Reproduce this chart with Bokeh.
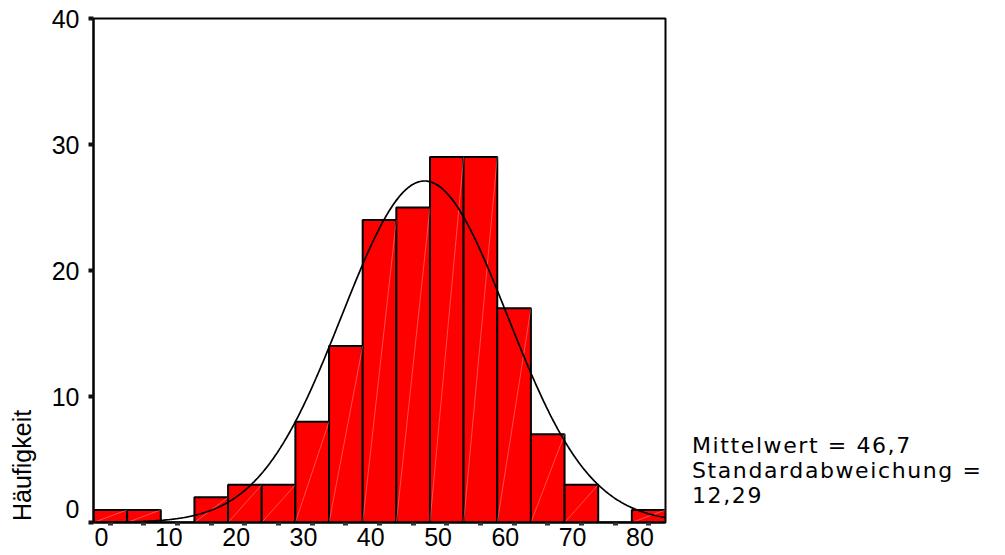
import numpy as np
from bokeh.plotting import figure
from bokeh.layouts import row
from bokeh.models import Range1d, LinearAxis, FixedTicker, ColumnDataSource, Div
from bokeh.embed import file_html
from bokeh.resources import INLINE

# ---- data ----
bin_centers = [0, 5, 10, 15, 20, 25, 30, 35, 40, 45, 50, 55, 60, 65, 70, 75, 80]
counts = [1, 1, 0, 2, 3, 3, 8, 14, 24, 25, 29, 29, 17, 7, 3, 0, 1]
bin_width = 5
x_tick_values = [0, 10, 20, 30, 40, 50, 60, 70, 80]
y_tick_values = [0, 10, 20, 30, 40]
mean_value = 46.7
std_value = 12.29
stats_lines = ["Mittelwert = 46,7", "Standardabweichung =", "12,29"]
y_label = "Häufigkeit"

lefts = [c - bin_width / 2 for c in bin_centers]
rights = [c + bin_width / 2 for c in bin_centers]
src = ColumnDataSource(dict(left=lefts, right=rights, top=counts, bottom=[0] * len(counts)))

nz = [i for i, c in enumerate(counts) if c > 0]
diag = ColumnDataSource(dict(x0=[lefts[i] for i in nz], x1=[rights[i] for i in nz],
                             y0=[0] * len(nz), y1=[counts[i] for i in nz]))

n_total = sum(counts)
xs = np.linspace(lefts[0], rights[-1], 500)
ys = n_total * bin_width * np.exp(-0.5 * ((xs - mean_value) / std_value) ** 2) / (std_value * np.sqrt(2 * np.pi))

FONT = "Liberation Sans"
FS = "25px"
LEFT_W = 40

p = figure(frame_width=572, frame_height=504, output_backend="svg", toolbar_location=None,
           x_range=Range1d(lefts[0], rights[-1]), y_range=Range1d(0, 40),
           min_border_left=93 - LEFT_W, min_border_right=2, min_border_top=18, min_border_bottom=33,
           x_axis_location=None, y_axis_location=None)
p.xgrid.visible = False
p.ygrid.visible = False
p.outline_line_color = "black"
p.outline_line_width = 2
p.background_fill_color = "white"
p.border_fill_color = "white"

p.quad(left="left", right="right", top="top", bottom="bottom", source=src,
       fill_color="#FF0000", line_color="black", line_width=2)
p.segment(x0="x0", y0="y0", x1="x1", y1="y1", source=diag,
          line_color="white", line_alpha=0.3, line_width=1)
p.line(xs, ys, line_color="black", line_width=1.7)

# y axis: tick marks
ytk = LinearAxis(ticker=FixedTicker(ticks=y_tick_values))
ytk.axis_line_width = 2
ytk.axis_line_color = "black"
ytk.major_tick_in = 0
ytk.major_tick_out = 5
ytk.major_tick_line_width = 4
ytk.major_tick_line_color = "#111111"
ytk.minor_tick_line_color = None
ytk.major_label_overrides = {v: "" for v in y_tick_values}
ytk.major_label_text_font_size = "0px"
ytk.major_label_standoff = 0
p.add_layout(ytk, "left")

# y axis: labels (SPSS lifts the "0" label above the x axis)
lift = 1.1
ylab_ticks = [y_tick_values[0] + lift] + y_tick_values[1:]
ylab = LinearAxis(ticker=FixedTicker(ticks=ylab_ticks))
ylab.major_label_overrides = {ylab_ticks[0]: str(y_tick_values[0])}
ylab.axis_line_color = None
ylab.major_tick_line_color = None
ylab.minor_tick_line_color = None
ylab.major_tick_in = 0
ylab.major_tick_out = 0
ylab.major_label_text_font = FONT
ylab.major_label_text_font_size = FS
ylab.major_label_text_color = "black"
ylab.major_label_standoff = 9
p.add_layout(ylab, "left")

# x axis: tick marks at bin centres
xax = LinearAxis(ticker=FixedTicker(ticks=bin_centers))
xax.axis_line_width = 2
xax.axis_line_color = "black"
xax.major_tick_in = 0
xax.major_tick_out = 3
xax.major_tick_line_width = 5
xax.major_tick_line_color = "#333333"
xax.minor_tick_line_color = None
xax.major_label_overrides = {c: "" for c in bin_centers}
xax.major_label_text_font_size = "0px"
xax.major_label_standoff = 0
p.add_layout(xax, "below")

# x labels (SPSS draws them slightly left of their ticks)
shift = 1.3
p.extra_x_ranges = {"lab": Range1d(lefts[0] + shift, rights[-1] + shift)}
xlab = LinearAxis(x_range_name="lab", ticker=FixedTicker(ticks=x_tick_values))
xlab.axis_line_color = None
xlab.major_tick_line_color = None
xlab.minor_tick_line_color = None
xlab.major_tick_in = 0
xlab.major_tick_out = 0
xlab.major_label_text_font = FONT
xlab.major_label_text_font_size = FS
xlab.major_label_text_color = "black"
xlab.major_label_standoff = 2
p.add_layout(xlab, "below")

# y-axis title, placed at the bottom end of the axis as in SPSS
left_div = Div(
    text=('<div style="position:relative;width:%dpx;height:555px;">'
          '<div style="position:absolute;left:5px;top:521px;transform:rotate(-90deg);'
          'transform-origin:left top;font-family:\'Liberation Sans\';font-size:25px;'
          'white-space:nowrap;color:black;">%s</div></div>') % (LEFT_W, y_label),
    width=LEFT_W, height=555, styles={"margin": "0", "padding": "0"})

right_div = Div(text="<br>".join(stats_lines), width=338, height=555,
                styles={"padding-top": "433px", "padding-left": "25px",
                        "font-family": "'DejaVu Sans'", "font-size": "22px",
                        "letter-spacing": "1.6px",
                        "line-height": "25px", "color": "black", "white-space": "nowrap",
                        "margin": "0"})

layout = row(left_div, p, right_div, spacing=0)
open("out.html", "w").write(file_html(layout, INLINE))
